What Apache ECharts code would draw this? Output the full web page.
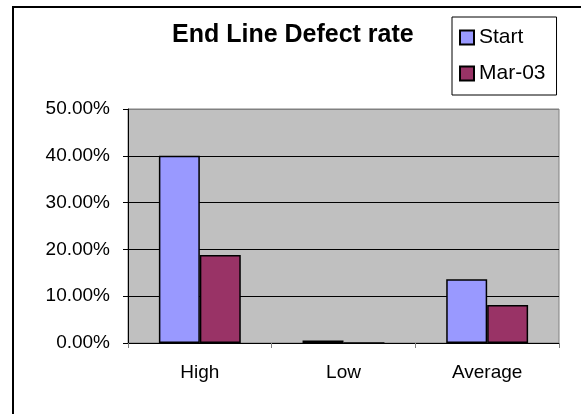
<!DOCTYPE html>
<html>
<head>
<meta charset="utf-8">
<script src="https://cdn.jsdelivr.net/npm/echarts@6/dist/echarts.min.js"></script>
<style>
  html, body { margin: 0; padding: 0; background: #fff; overflow: hidden; }
  #chart { position: absolute; left: 0; top: 0; width: 581px; height: 414px; }
  #frame { position: absolute; left: 12px; top: 6px; width: 600px; height: 500px;
           border: 2px solid #000; pointer-events: none; }
</style>
</head>
<body>
<div id="chart"></div>
<div id="frame"></div>
<script>
const titleText = 'End Line Defect rate';
const categories = ['High', 'Low', 'Average'];
const seriesNames = ['Start', 'Mar-03'];
const startValues = [0.40, 0.0055, 0.136];
const mar03Values = [0.188, 0, 0.081];
const yTicks = [0, 0.1, 0.2, 0.3, 0.4, 0.5];

const FONT = '"Liberation Sans", Arial, sans-serif';
const chart = echarts.init(document.getElementById('chart'), null, { renderer: 'canvas' });

chart.setOption({
  backgroundColor: '#fff',
  animation: false,
  title: {
    text: titleText,
    left: 172,
    top: 23,
    padding: 0,
    textStyle: { fontFamily: FONT, fontSize: 25, fontWeight: 'bold', color: '#000', lineHeight: 25 }
  },
  legend: {
    orient: 'vertical',
    left: 452,
    top: 17,
    padding: [10, 11, 11, 7],
    itemGap: 15,
    itemWidth: 14,
    itemHeight: 14,
    backgroundColor: '#fff',
    borderColor: '#000',
    borderWidth: 1,
    icon: 'rect',
    textStyle: { fontFamily: FONT, fontSize: 21, color: '#000', lineHeight: 21 },
    data: seriesNames
  },
  grid: {
    left: 128, right: 22, top: 109, bottom: 71,
    show: true,
    backgroundColor: '#C0C0C0',
    borderColor: '#808080',
    borderWidth: 1,
    outerBoundsMode: 'none'
  },
  xAxis: {
    type: 'category',
    data: categories,
    axisLine: { lineStyle: { color: '#000', width: 1 } },
    axisTick: { show: true, length: 5, lineStyle: { color: '#808080' } },
    axisLabel: { fontFamily: FONT, fontSize: 19, color: '#000', margin: 20 }
  },
  yAxis: {
    type: 'value',
    min: yTicks[0],
    max: yTicks[yTicks.length - 1],
    interval: yTicks[1] - yTicks[0],
    axisLine: { show: true, lineStyle: { color: '#000', width: 1 } },
    axisTick: { show: true, length: 5, inside: false, lineStyle: { color: '#000' } },
    axisLabel: {
      fontFamily: FONT, fontSize: 19, color: '#000', margin: 18,
      formatter: v => (v * 100).toFixed(2) + '%'
    },
    splitLine: { show: true, lineStyle: { color: ['#000', '#000', '#000', '#000', '#000', '#808080'], width: 1 } }
  },
  series: [
    {
      name: seriesNames[0], type: 'bar', data: startValues,
      barGap: '0%', barCategoryGap: '43%',
      itemStyle: { color: '#9999FF', borderColor: '#000', borderWidth: 1.5 }
    },
    {
      name: seriesNames[1], type: 'bar', data: mar03Values,
      barGap: '0%', barCategoryGap: '43%',
      itemStyle: { color: '#993366', borderColor: '#000', borderWidth: 1.5 }
    }
  ]
});
</script>
</body>
</html>
